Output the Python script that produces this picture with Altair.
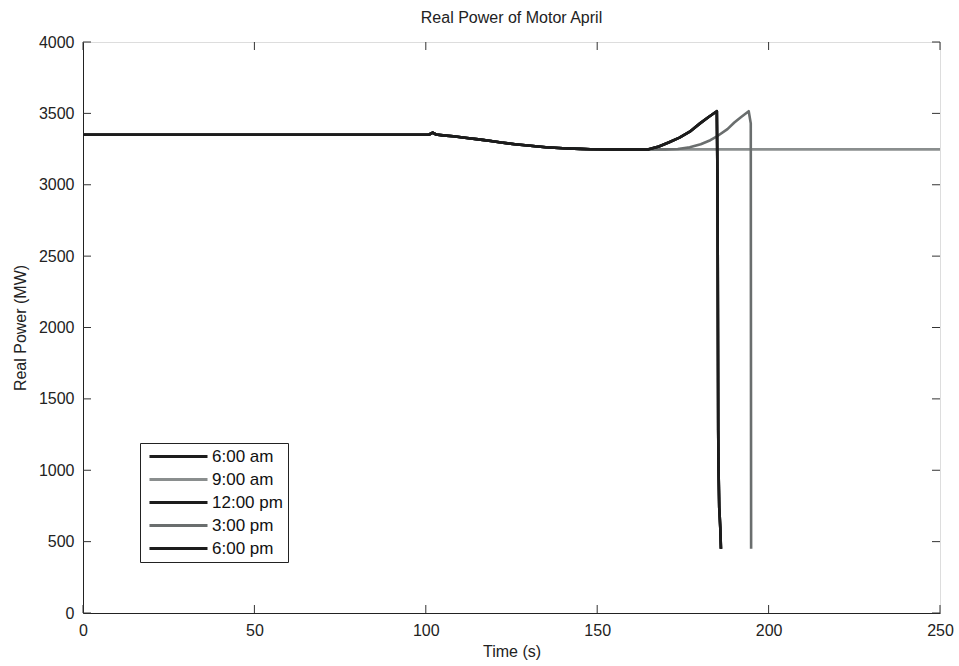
import altair as alt
import pandas as pd

series_names = ["6:00 am", "9:00 am", "12:00 pm", "3:00 pm", "6:00 pm"]
series_colors = ["#1c1c1c", "#8a8e8e", "#1c1c1c", "#6a6e6e", "#1c1c1c"]
draw_order = ["9:00 am", "3:00 pm", "12:00 pm", "6:00 am", "6:00 pm"]

# common pre-disturbance trajectory
t_common = [0, 100, 101, 102, 103, 105, 108, 112, 116, 119, 122, 126, 129, 132, 135, 140, 145, 148, 155, 160, 165]
p_common = [3350, 3350, 3352, 3365, 3352, 3346, 3340, 3328, 3316, 3307, 3296, 3284, 3277, 3270, 3263, 3256, 3251, 3249, 3248, 3248, 3248]

# collapse near 186 s (black cases)
t_black = [168, 171, 174, 177, 180, 182.5, 184.9, 185.1, 185.3, 185.4, 185.6, 185.9, 186.1]
p_black = [3268, 3298, 3330, 3372, 3430, 3475, 3515, 3000, 1280, 1000, 740, 600, 450]

# collapse near 195 s (3:00 pm)
t_gray = [170, 173.5, 177, 180.2, 183, 185.2, 188, 190, 192, 194.2, 194.8, 194.9]
p_gray = [3248, 3250, 3262, 3284, 3312, 3343, 3390, 3436, 3475, 3515, 3430, 450]

# stays stable (9:00 am)
t_stable = [200, 250]
p_stable = [3248, 3248]

x_ticks = [0, 50, 100, 150, 200, 250]
y_ticks = [0, 500, 1000, 1500, 2000, 2500, 3000, 3500, 4000]

rows = []
for name in series_names:
    if name == "9:00 am":
        ts, ps = t_common + t_stable, p_common + p_stable
    elif name == "3:00 pm":
        ts, ps = t_common + t_gray, p_common + p_gray
    else:
        ts, ps = t_common + t_black, p_common + p_black
    for i, (t, p) in enumerate(zip(ts, ps)):
        rows.append({"series": name, "time": t, "power": p, "i": i})
df = pd.DataFrame(rows)

W, H = 857, 571
FONT = "Liberation Sans"

xscale = alt.Scale(domain=[0, 250], nice=False, zero=False)
yscale = alt.Scale(domain=[0, 4000], nice=False)
color = alt.Color(
    "series:N",
    scale=alt.Scale(domain=series_names, range=series_colors),
    legend=alt.Legend(
        title=None,
        orient="none",
        legendX=57,
        legendY=401,
        symbolType="M-0.67,0H9",
        symbolStrokeWidth=3,
        symbolSize=144,
        labelFont=FONT,
        labelFontSize=17,
        labelColor="#111",
        labelOffset=50,
        rowPadding=5,
        padding=5,
        strokeColor="#222",
        fillColor="white",
    ),
)

layers = []
for k, name in enumerate(draw_order):
    base = alt.Chart(df).transform_filter(alt.datum.series == name)
    enc = dict(
        x=alt.X("time:Q", scale=xscale,
                axis=alt.Axis(values=x_ticks, format="d", title="Time (s)", grid=False, tickSize=0,
                              labelFont=FONT, labelFontSize=16, labelColor="#222",
                              titleFont=FONT, titleFontSize=16, titleFontWeight="normal",
                              titleColor="#222", labelPadding=9, titlePadding=5,
                              domainColor="#222", labelFlush=False)),
        y=alt.Y("power:Q", scale=yscale,
                axis=alt.Axis(values=y_ticks, format="d", title="Real Power (MW)", grid=False, tickSize=0,
                              labelFont=FONT, labelFontSize=16, labelColor="#222",
                              titleFont=FONT, titleFontSize=16, titleFontWeight="normal",
                              titleColor="#222", labelPadding=9, titlePadding=10,
                              domainColor="#222", labelFlush=False)),
        color=color,
        order="i:Q",
    )
    layers.append(base.mark_line(strokeWidth=2.6, strokeJoin="round").encode(**enc))

xt = pd.DataFrame({"v": x_ticks})
yt = pd.DataFrame({"v": y_ticks})
tick_col = "#333"
xticks_b = alt.Chart(xt).mark_rule(color=tick_col, strokeWidth=1).encode(
    x=alt.X("v:Q", scale=xscale), y=alt.value(H), y2=alt.value(H - 8))
xticks_t = alt.Chart(xt).mark_rule(color=tick_col, strokeWidth=1).encode(
    x=alt.X("v:Q", scale=xscale), y=alt.value(0), y2=alt.value(8))
yticks_l = alt.Chart(yt).mark_rule(color=tick_col, strokeWidth=1).encode(
    y=alt.Y("v:Q", scale=yscale), x=alt.value(0), x2=alt.value(8))
yticks_r = alt.Chart(yt).mark_rule(color=tick_col, strokeWidth=1).encode(
    y=alt.Y("v:Q", scale=yscale), x=alt.value(W), x2=alt.value(W - 8))

chart = alt.layer(xticks_b, xticks_t, yticks_l, yticks_r, *layers).properties(
    width=W,
    height=H,
    title=alt.Title("Real Power of Motor April", font=FONT, fontSize=16,
                    fontWeight="normal", color="#222", offset=8),
    autosize=alt.AutoSizeParams(type="none"),
    padding={"left": 83, "top": 42, "right": 19, "bottom": 53},
).configure_view(stroke="#222", strokeWidth=1).configure(background="white")

chart.save("out.html", embed_options={"renderer": "svg", "actions": False})
